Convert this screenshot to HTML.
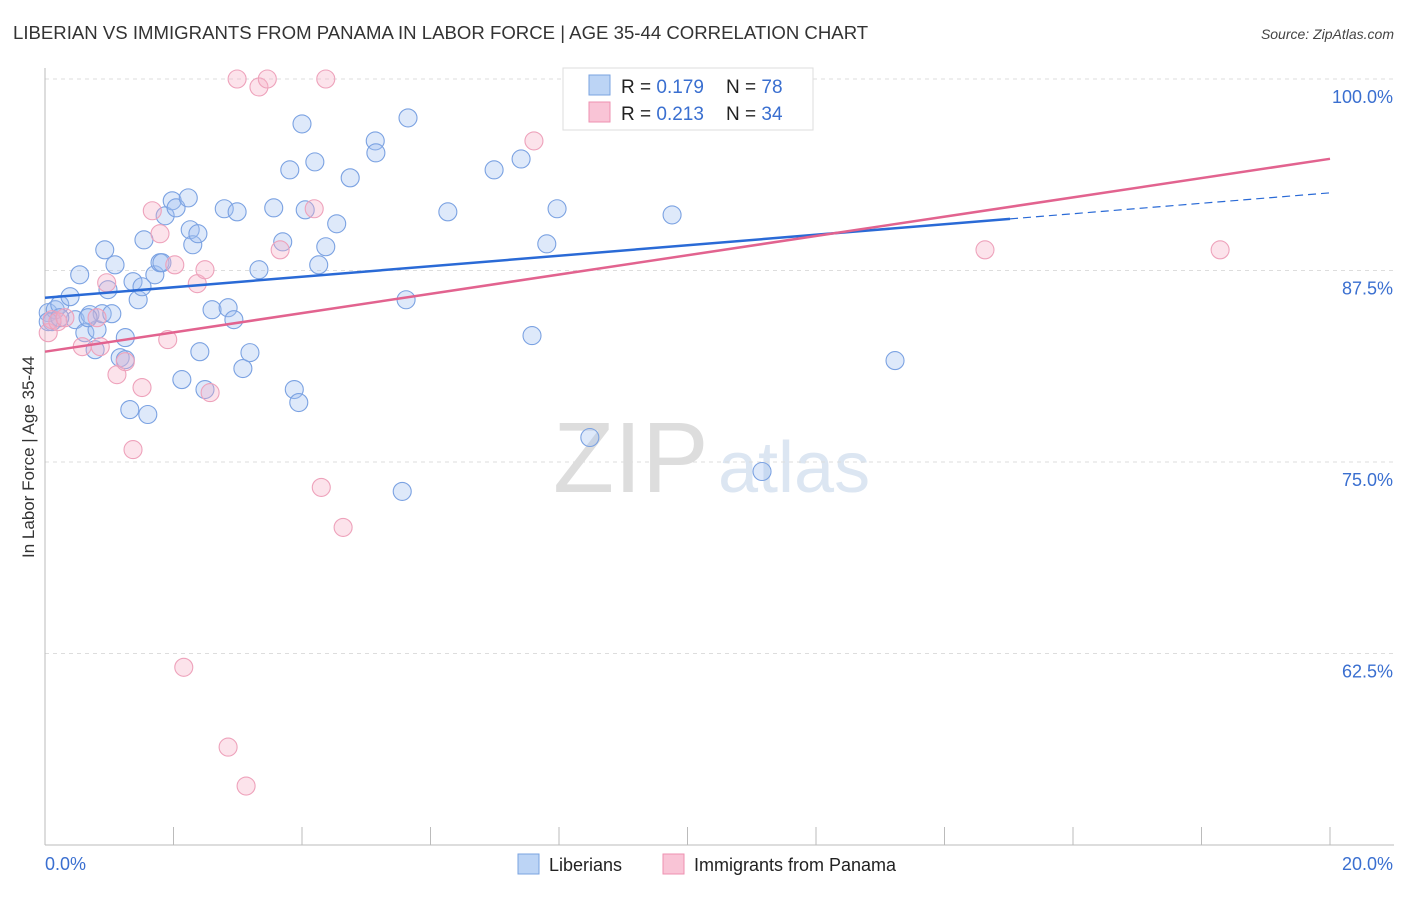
<!DOCTYPE html>
<html><head><meta charset="utf-8">
<style>
body{margin:0;background:#fff;font-family:"Liberation Sans",sans-serif;}
svg text{font-family:"Liberation Sans",sans-serif;}
</style></head>
<body>
<svg id="chart" width="1406" height="892" viewBox="0 0 1406 892" xmlns="http://www.w3.org/2000/svg">
<text x="13" y="39" font-size="18.6" fill="#333">LIBERIAN VS IMMIGRANTS FROM PANAMA IN LABOR FORCE | AGE 35-44 CORRELATION CHART</text>
<text x="1394" y="39" font-size="14" fill="#444" text-anchor="end" font-style="italic">Source: ZipAtlas.com</text>
<g>
<text x="553" y="492" font-size="100" fill="#ddd" font-family="Liberation Serif, serif">ZIP</text>
<text x="718" y="492" font-size="72" fill="#dce6f2">atlas</text>
</g>
<g id="grid"></g>
<g id="axes"></g>
<g id="blue"></g>
<g id="pink"></g>
<g id="lines"></g>
<text transform="translate(34,457) rotate(-90)" font-size="17" fill="#333" text-anchor="middle">In Labor Force | Age 35-44</text>
<g>
<rect x="563" y="68" width="250" height="62" fill="#fff" stroke="#ddd"/>
<rect x="589" y="75" width="21" height="20" fill="#bcd4f5" stroke="#7aa3e0"/>
<rect x="589" y="102" width="21" height="20" fill="#f9c4d6" stroke="#ee91b0"/>
<text x="621" y="93" font-size="19" fill="#222">R = <tspan fill="#3a6fd0">0.179</tspan></text>
<text x="726" y="93" font-size="19" fill="#222">N = <tspan fill="#3a6fd0">78</tspan></text>
<text x="621" y="120" font-size="19" fill="#222">R = <tspan fill="#3a6fd0">0.213</tspan></text>
<text x="726" y="120" font-size="19" fill="#222">N = <tspan fill="#3a6fd0">34</tspan></text>
</g>
<g>
<rect x="518" y="854" width="21" height="20" fill="#bcd4f5" stroke="#7aa3e0"/>
<text x="549" y="871" font-size="18" fill="#222">Liberians</text>
<rect x="663" y="854" width="21" height="20" fill="#f9c4d6" stroke="#ee91b0"/>
<text x="694" y="871" font-size="18" fill="#222">Immigrants from Panama</text>
</g>
</svg>
<script>
const xTicks=[0,2,4,6,8,10,12,14,16,18,20];
const yTicks=[62.5,75,87.5,100];
const yTickLabels=["62.5%","75.0%","87.5%","100.0%"];
const blueX=[0.05,0.11,0.16,0.23,0.39,0.47,0.54,0.62,0.70,0.78,0.81,0.89,0.93,0.98,1.04,1.09,1.17,1.25,1.25,1.32,1.37,1.45,1.51,1.54,1.60,1.71,1.79,1.82,1.87,1.98,2.04,2.13,2.23,2.26,2.30,2.38,2.41,2.49,2.60,2.79,2.85,2.94,2.99,3.08,3.19,3.33,3.56,3.70,3.81,3.88,3.95,4.00,4.05,4.20,4.26,4.37,4.54,4.75,5.14,5.15,5.62,5.56,5.65,6.27,6.99,7.41,7.58,7.81,7.97,8.48,8.61,9.76,11.16,13.23,0.05,0.23,0.67];
const blueY=[84.75,84.16,84.94,85.27,85.79,84.29,87.22,83.44,84.62,82.33,83.64,84.68,88.85,86.25,84.68,87.87,81.81,83.12,81.68,78.42,86.77,85.59,86.44,89.50,78.10,87.22,88.01,88.01,91.07,92.05,91.59,80.38,92.24,90.16,89.18,89.90,82.20,79.73,84.94,91.53,85.07,84.29,91.33,81.10,82.14,87.55,91.59,89.37,94.07,79.73,78.88,97.07,91.46,94.59,87.87,89.05,90.55,93.55,95.96,95.18,85.59,73.08,97.46,91.33,94.07,94.78,83.25,89.24,91.53,76.60,99.80,91.13,74.38,81.62,84.16,84.42,84.42];
const pinkX=[0.05,0.11,0.20,0.31,0.58,0.81,0.86,0.96,1.12,1.25,1.37,1.51,1.67,1.79,1.91,2.02,2.37,2.49,2.57,2.85,2.99,3.13,3.33,3.46,3.66,4.19,4.30,4.37,4.64,7.61,8.48,14.63,18.29,2.16];
const pinkY=[83.44,84.29,84.16,84.42,82.53,84.42,82.53,86.70,80.70,81.55,75.81,79.86,91.40,89.90,82.99,87.87,86.64,87.55,79.53,56.39,100,53.85,99.48,100,88.85,91.53,73.34,100,70.73,95.96,100,88.85,88.85,61.60];
const blueTrendX=[0,15.02,20];
const blueTrendY=[85.72,90.87,92.57];
const pinkTrendX=[0,20];
const pinkTrendY=[82.20,94.79];

const X0=45,X1=1330,Y0=845,Y1=79;
const sx=v=>X0+(v-0)/20*(X1-X0);
const sy=v=>Y0-(v-50)/50*(Y0-Y1);
const NS="http://www.w3.org/2000/svg";
function mk(tag,attrs,parent){const e=document.createElementNS(NS,tag);for(const k in attrs)e.setAttribute(k,attrs[k]);parent.appendChild(e);return e;}
const grid=document.getElementById('grid'),axes=document.getElementById('axes');
yTicks.forEach((t,i)=>{
 const g=mk('line',{x1:X0,x2:1394,y1:sy(t),y2:sy(t),stroke:'#ddd','stroke-dasharray':'4,4'},grid);
 
 
 const l=mk('text',{x:1393,y:sy(t)+24,'font-size':'18',fill:'#3a6fd0','text-anchor':'end'},axes);
 
 
 l.textContent=yTickLabels[i];
});
mk('line',{x1:X0,x2:X0,y1:68,y2:Y0,stroke:'#bbb'},axes);
mk('line',{x1:X0,x2:1394,y1:Y0,y2:Y0,stroke:'#bbb'},axes);
xTicks.forEach(t=>{
 const tk=mk('line',{x1:sx(t),x2:sx(t),y1:Y0,y2:Y0-18,stroke:'#bbb'},axes);
 
 
});
const xl0=mk('text',{x:45,y:870,'font-size':'18',fill:'#3a6fd0'},axes);


xl0.textContent='0.0%';
const xl1=mk('text',{x:1393,y:870,'font-size':'18',fill:'#3a6fd0','text-anchor':'end'},axes);


xl1.textContent='20.0%';
const bg=document.getElementById('blue');
blueX.forEach((v,i)=>{
 const c=mk('circle',{cx:sx(v),cy:sy(blueY[i]),r:9,fill:'rgba(160,192,240,0.35)',stroke:'#7ba2e2','stroke-width':1.1},bg);
 
 
});
const pg=document.getElementById('pink');
pinkX.forEach((v,i)=>{
 const c=mk('circle',{cx:sx(v),cy:sy(pinkY[i]),r:9,fill:'rgba(245,175,198,0.35)',stroke:'#eea2bb','stroke-width':1.1},pg);
 
 
});
const lg=document.getElementById('lines');
const b1=mk('line',{x1:sx(blueTrendX[0]),y1:sy(blueTrendY[0]),x2:sx(blueTrendX[1]),y2:sy(blueTrendY[1]),stroke:'#2a6ad6','stroke-width':2.5},lg);


const b2=mk('line',{x1:sx(blueTrendX[1]),y1:sy(blueTrendY[1]),x2:sx(blueTrendX[2]),y2:sy(blueTrendY[2]),stroke:'#2a6ad6','stroke-width':1.2,'stroke-dasharray':'8,5'},lg);


const p1=mk('line',{x1:sx(pinkTrendX[0]),y1:sy(pinkTrendY[0]),x2:sx(pinkTrendX[1]),y2:sy(pinkTrendY[1]),stroke:'#e2638f','stroke-width':2.5},lg);


</script>
</body></html>
